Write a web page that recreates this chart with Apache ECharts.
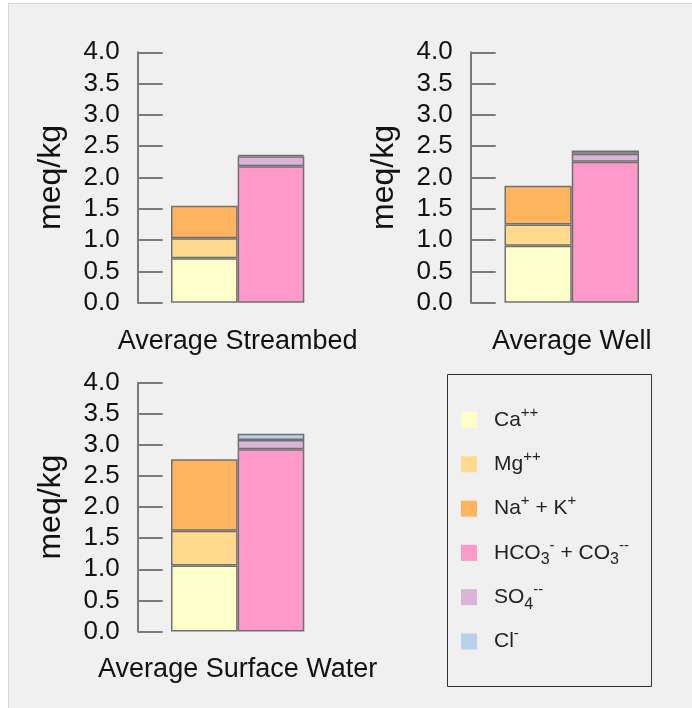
<!DOCTYPE html>
<html><head><meta charset="utf-8">
<script src="https://cdn.jsdelivr.net/npm/echarts@6/dist/echarts.min.js"></script>
<style>
html,body{margin:0;padding:0;background:#fff;}
#bg{position:absolute;left:8px;top:3px;width:700px;height:720px;background:#f0f0f0;border:1px solid #d6d6d6;}
#chart{position:absolute;left:0;top:0;width:692px;height:708px;}
</style></head>
<body><div id="bg"></div><div id="chart"></div>
<script>
const panels = ['Average Streambed', 'Average Well', 'Average Surface Water'];
const barCats = ['Cations', 'Anions'];
const ca   = [0.71, 0.91, 1.06];
const mg   = [0.32, 0.34, 0.56];
const naK  = [0.52, 0.62, 1.15];
const hco3 = [2.18, 2.25, 2.93];
const so4  = [0.16, 0.13, 0.15];
const cl   = [0.02, 0.05, 0.10];
const seriesNames = ['Ca++', 'Mg++', 'Na+ + K+', 'HCO3- + CO3--', 'SO4--', 'Cl-'];
const seriesColors = ['#ffffcc', '#fed98e', '#feb35f', '#ff99c9', '#dab4d9', '#b8d0ea'];
const yMin = 0, yMax = 4, yStep = 0.5;

const FONT = '"Liberation Sans", Arial, sans-serif';
const grids = [
  {left: 171, top: 52.3, width: 133.3, height: 250.4},
  {left: 504.5, top: 52.3, width: 134.5, height: 250.4},
  {left: 171, top: 382.7, width: 133.3, height: 248.8}
];
const values = [ca, mg, naK, hco3, so4, cl];
const isAnion = [false, false, false, true, true, true];

const option = {
  animation: false,
  textStyle: {fontFamily: FONT},
  grid: grids,
  graphic: [{
    type: 'rect', left: 445, top: 372, silent: true,
    shape: {width: 204, height: 312},
    style: {fill: 'none', stroke: '#333', lineWidth: 1}
  }],
  xAxis: panels.map((p, i) => ({
    type: 'category', gridIndex: i, data: barCats,
    axisLine: {show: false}, axisTick: {show: false}, axisLabel: {show: false},
    name: p, nameLocation: 'middle', nameGap: 25,
    nameTextStyle: {fontSize: 27, color: '#111', fontFamily: FONT}
  })),
  yAxis: panels.map((p, i) => ({
    type: 'value', gridIndex: i, min: yMin, max: yMax, interval: yStep,
    offset: i === 1 ? 33.8 : 33.3,
    axisLine: {show: true, lineStyle: {color: '#7a7a7a', width: 2}},
    axisTick: {show: true, inside: true, length: 25, lineStyle: {color: '#7a7a7a', width: 2}},
    axisLabel: {fontSize: 26, color: '#111', margin: 18, fontFamily: FONT,
      formatter: v => v.toFixed(1)},
    splitLine: {show: false},
    name: 'meq/kg', nameLocation: 'middle', nameGap: 71, nameRotate: 90,
    nameTextStyle: {fontSize: 32, color: '#111', fontFamily: FONT}
  })),
  legend: {
    orient: 'vertical', left: 461, top: 405, padding: 0, itemGap: 14.3,
    itemWidth: 16, itemHeight: 16, icon: 'rect',
    itemStyle: {borderWidth: 0},
    data: seriesNames,
    formatter: function (name) {
      switch (name) {
        case 'Ca++': return '{n|Ca}{sup|++}';
        case 'Mg++': return '{n|Mg}{sup|++}';
        case 'Na+ + K+': return '{n|Na}{sup|+}{n| + K}{sup|+}';
        case 'HCO3- + CO3--': return '{n|HCO}{sub|3}{sup|-}{n| + CO}{sub|3}{sup|--}';
        case 'SO4--': return '{n|SO}{sub|4}{sup|--}';
        case 'Cl-': return '{n|Cl}{sup|-}';
      }
      return name;
    },
    textStyle: {
      padding: [0, 0, 0, 12],
      height: 30,
      lineHeight: 30,
      rich: {
        n: {fontSize: 21, color: '#222', lineHeight: 30, fontFamily: FONT, verticalAlign: 'middle'},
        sup: {fontSize: 15, color: '#222', lineHeight: 15, fontFamily: FONT, verticalAlign: 'top'},
        sub: {fontSize: 16, color: '#222', lineHeight: 16, fontFamily: FONT, verticalAlign: 'bottom'}
      }
    }
  },
  series: []
};

panels.forEach((p, gi) => {
  seriesNames.forEach((nm, si) => {
    const v = values[si][gi];
    option.series.push({
      type: 'bar', name: nm, xAxisIndex: gi, yAxisIndex: gi,
      stack: 'stack' + gi, barWidth: '100%', barCategoryGap: 0,
      data: isAnion[si] ? ['-', v] : [v, '-'],
      itemStyle: {color: seriesColors[si], borderColor: '#707070', borderWidth: 1.5},
      emphasis: {disabled: true}
    });
  });
});

const chart = echarts.init(document.getElementById('chart'));
chart.setOption(option);
</script>
</body></html>
